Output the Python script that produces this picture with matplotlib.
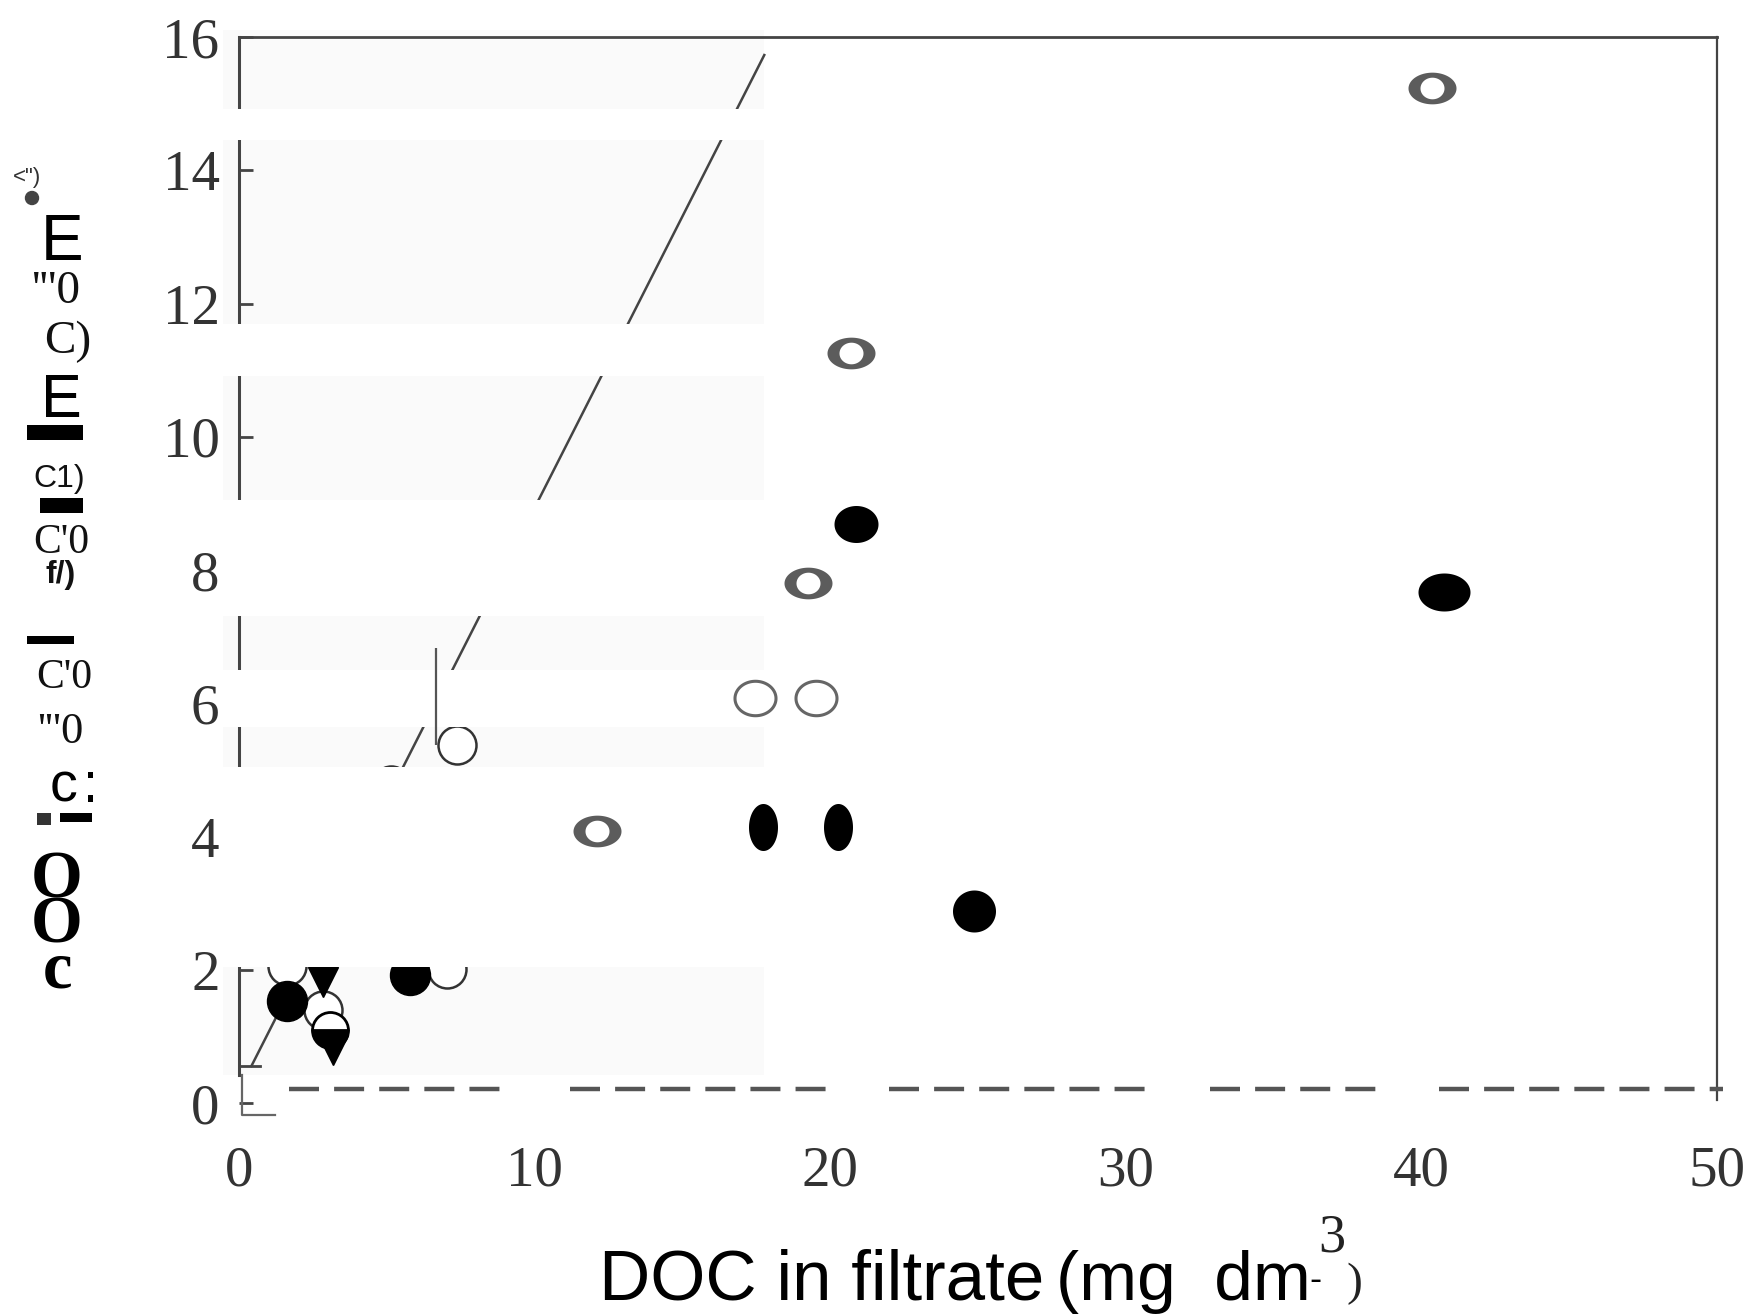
import numpy as np
import matplotlib.pyplot as plt
from matplotlib.path import Path
from matplotlib.patches import Rectangle, Ellipse

plt.rcParams["font.family"] = ["Liberation Serif", "DejaVu Serif"]

# --- data -------------------------------------------------------------------
# regression line of the scanned layer
fit_x = [0.42, 17.77]
fit_y = [0.56, 15.73]

# scanned-layer symbols near the origin (partly hidden by the scan gaps)
scan_open_x = [1.61, 2.85, 7.02, 7.36, 5.13]
scan_open_y = [2.06, 1.40, 2.01, 5.38, 4.78]
scan_filled_x = [1.61, 5.78]
scan_filled_y = [1.53, 1.93]
scan_tri_x = [2.85, 3.19]
scan_tri_y = [1.82, 0.80]
scan_half_x = [3.08]
scan_half_y = [1.10]

# overlaid symbols
letter_x = [40.36, 20.69, 19.25, 12.11]
letter_y = [15.24, 11.26, 7.81, 4.08]
ring_x = [17.46, 19.51]
ring_y = [6.08, 6.08]
dot_x = [20.88, 40.77, 17.73, 20.27, 24.87]
dot_y = [8.69, 7.68, 4.14, 4.14, 2.89]
errbar_x = [6.68]
errbar_lo = [5.38]
errbar_hi = [6.84]

x_ticks = [0, 10, 20, 30, 40, 50]
y_ticks = [0, 2, 4, 6, 8, 10, 12, 14, 16]

# --- styling -----------------------------------------------------------------
W, H = 1760, 1314
PT = 0.72  # points per pixel at dpi 100
dot_w = [44, 52, 29, 29, 43]
dot_h = [37, 38, 47, 47, 42]

block_x = (-0.55, 17.77)
visible_bands = [(0.42, 2.04), (5.05, 5.64), (6.50, 7.32), (9.06, 10.92), (11.70, 14.45), (14.92, 16.1)]
gap_bands = [(2.04, 5.05), (5.64, 6.50), (7.32, 9.06), (10.92, 11.70), (14.45, 14.92)]
baseline_y = 0.22
baseline_starts = [1.70, 11.20, 22.00, 32.86, 40.58]
baseline_ends = [9.19, 20.05, 30.87, 38.90, 50.20]


def ellipse_path(aspect, inner=None):
    t = np.linspace(0, 2 * np.pi, 120)
    outer = np.column_stack([np.cos(t), aspect * np.sin(t)])
    codes = [Path.MOVETO] + [Path.LINETO] * 118 + [Path.CLOSEPOLY]
    if inner is None:
        return Path(outer, codes)
    ix, iy = inner
    hole = np.column_stack([ix * np.cos(t[::-1]), iy * np.sin(t[::-1])])
    return Path(np.vstack([outer, hole]), codes + codes)


def fig_text(x, y, s, size, family="Liberation Sans", weight="normal", color="#111",
             ha="center", **kw):
    fig.text(x / W, 1 - y / H, s, fontsize=size, family=family, weight=weight,
             color=color, ha=ha, va="baseline", **kw)


def fig_rect(x0, y0, x1, y1, color="black"):
    fig.add_artist(Rectangle((x0 / W, 1 - y1 / H), (x1 - x0) / W, (y1 - y0) / H,
                             transform=fig.transFigure, color=color, lw=0))


fig = plt.figure(figsize=(W / 100, H / 100), dpi=100)
ax = fig.add_axes([239 / W, 0.1603, 1478 / W, 0.8115])
ax.set_xlim(0, 50)
ax.set_ylim(0, 16)

for side in ("left", "top", "right"):
    ax.spines[side].set_color("#444")
ax.spines["left"].set_linewidth(2.2)
ax.spines["left"].set_bounds(0.42, 16)
ax.spines["top"].set_linewidth(2.0)
ax.spines["right"].set_linewidth(1.6)
ax.spines["right"].set_bounds(0.05, 16)
ax.spines["bottom"].set_visible(False)

ax.set_xticks(x_ticks)
ax.set_yticks(y_ticks)
ax.tick_params(axis="y", direction="in", length=10, width=2, color="#444",
               labelsize=41, labelcolor="#333", pad=14)
ax.tick_params(axis="x", length=0, labelsize=41, labelcolor="#333", pad=30)

top = ax.secondary_xaxis("top")
top.set_xticks([10])
top.tick_params(direction="in", length=10, width=2, color="#444", labeltop=False)
top.spines["top"].set_visible(False)

# scan block: faint background strips and white gaps over the scanned layer
bw = block_x[1] - block_x[0]
for lo, hi in visible_bands:
    ax.add_patch(Rectangle((block_x[0], lo), bw, hi - lo, fc="#fafafa", ec="none",
                           zorder=0.5, clip_on=False))
for lo, hi in gap_bands:
    ax.add_patch(Rectangle((block_x[0], lo), bw, hi - lo, fc="white", ec="none",
                           zorder=3, clip_on=False))

# scanned layer
ax.plot(fit_x, fit_y, color="#444", lw=1.8, zorder=2)
ax.plot(scan_open_x, scan_open_y, "o", ms=38 * PT, mfc="white", mec="#333", mew=1.8, zorder=2.2)
ax.plot(scan_filled_x, scan_filled_y, "o", ms=40 * PT, color="black", zorder=2.3)
ax.plot(scan_half_x, scan_half_y, "o", ms=36 * PT, fillstyle="bottom", mfc="black",
        mfcalt="white", mec="black", mew=2, zorder=2.3)
ax.plot(scan_tri_x, scan_tri_y, "v", ms=30 * PT, color="black", zorder=2.4)
ax.plot([0, 0.72], [0.56, 0.56], color="#444", lw=2, zorder=2.5)

# overlay layer
letter_marker = ellipse_path(0.66, inner=(0.5, 0.45))
ax.plot(letter_x, letter_y, ls="none", marker=letter_marker, ms=48 * PT,
        mfc="#5c5c5c", mec="none", zorder=4)
ax.plot(ring_x, ring_y, ls="none", marker=ellipse_path(0.84), ms=41 * PT,
        mfc="none", mec="#666", mew=2.2, zorder=4)
for x, y, w, h in zip(dot_x, dot_y, dot_w, dot_h):
    ax.plot([x], [y], ls="none", marker=ellipse_path(h / w), ms=max(w, h) * PT,
            color="black", mew=0, zorder=4)
ax.vlines(errbar_x, errbar_lo, errbar_hi, color="#555", lw=1.6, zorder=4)

for s, e in zip(baseline_starts, baseline_ends):
    ax.plot([s, e], [baseline_y, baseline_y], color="#555", lw=3.2, dashes=(6.75, 3.4),
            dash_capstyle="butt", clip_on=False, zorder=4)
ax.plot([0.11, 0.11, 1.21], [0.42, -0.17, -0.17], color="#666", lw=1.6,
        clip_on=False, zorder=4)

# garbled vertical y label, piece by piece
fig_text(27, 183, '<")', 16, color="#333")
fig.add_artist(Ellipse((32 / W, 1 - 198 / H), 13 / W, 13 / H, transform=fig.transFigure,
                       color="#444"))
fig_text(62, 260, "E", 46, color="black")
fig_text(56, 303, "'''0", 34, family="Liberation Serif")
fig_text(68, 353, "C)", 34, family="Liberation Serif")
fig_text(61, 417, "E", 44, color="black")
fig_rect(27, 425, 83, 440)
fig_text(59, 487, "C1)", 23)
fig_rect(40, 498, 83, 513)
fig_text(61, 553, "C'0", 30, family="Liberation Serif")
fig_text(61, 583, "f/)", 23, weight="bold")
fig_rect(27, 636, 74, 644)
fig_text(64, 688, "C'0", 30, family="Liberation Serif")
fig_text(60, 743, "'''0", 32, family="Liberation Serif")
fig_text(64, 802, "c", 40, color="black")
fig_rect(88, 772, 93, 778)
fig_rect(88, 795, 93, 802)
fig_rect(37, 813, 51, 825, color="#333")
fig_rect(60, 813, 92, 822)
fig_text(57, 987, "O\nO\nc", 48, family="Liberation Serif", weight="bold", color="black",
         linespacing=0.65)

# x label
fig_text(599, 1300, "DOC in filtrate", 51, color="black", ha="left")
fig_text(1056, 1300, "(mg  dm", 50, color="black", ha="left")
fig_text(1309, 1290, "-", 26, color="black", ha="left")
fig_text(1318, 1252, "3", 39, family="Liberation Serif", color="#222", ha="left")
fig_text(1346, 1295, ")", 34, family="Liberation Serif", color="#222", ha="left")

fig.savefig("out.png", dpi=100)
